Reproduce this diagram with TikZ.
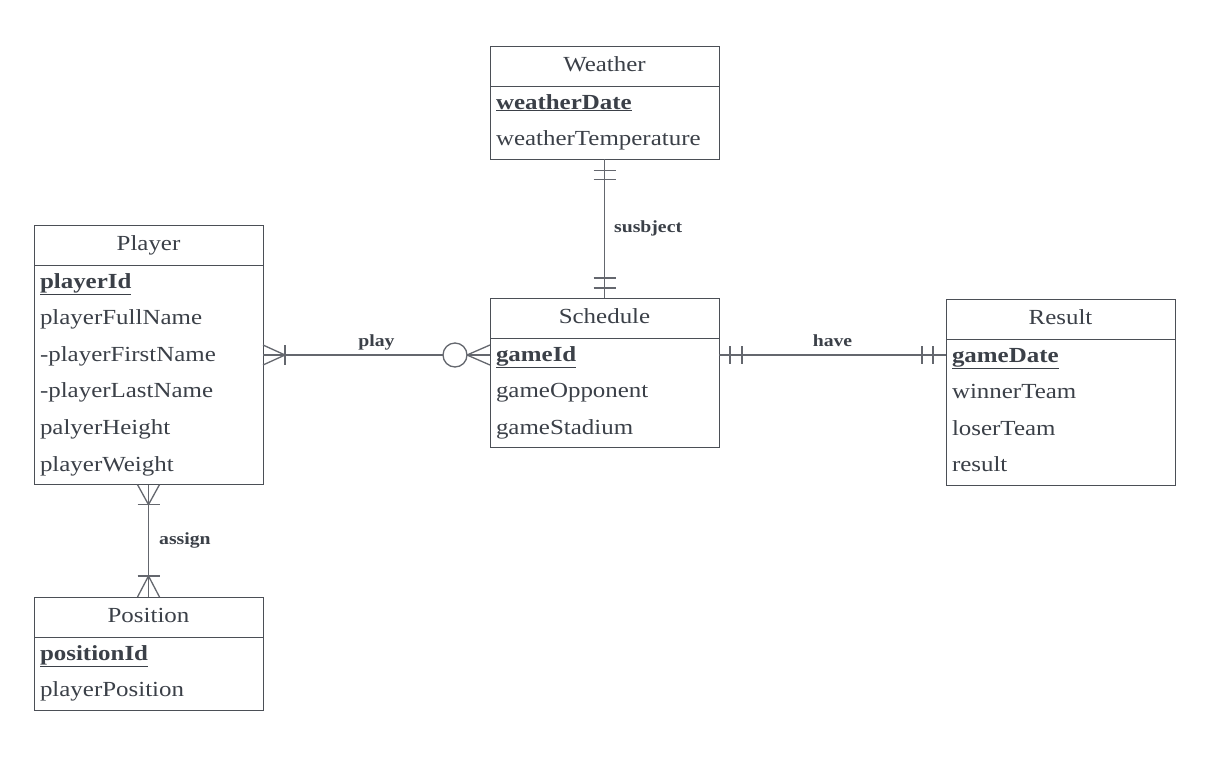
\documentclass[tikz,border=0pt]{standalone}
\usepackage{fontspec}
\setmainfont{Liberation Serif}[FakeStretch=1.16]
\usetikzlibrary{calc,positioning}

\definecolor{inkgray}{HTML}{3B4048}
\definecolor{boxgray}{HTML}{4B4F56}
\definecolor{linegray}{HTML}{64676E}

\newcommand{\rowstrut}{\rule[-13.6pt]{0pt}{36.6pt}}

\tikzset{
  head/.style={draw=boxgray,line width=1pt,outer sep=0pt,inner sep=0pt,minimum width=229pt,minimum height=40pt,
    text height=15pt,text depth=5pt,text=inkgray,font=\fontsize{21.5}{26}\selectfont},
  attrs/.style={draw=boxgray,line width=1pt,outer sep=0pt,inner xsep=6pt,inner ysep=0pt,text width=217pt,
    align=left,text=inkgray,font=\fontsize{21.5}{36.6}\selectfont},
  link/.style={draw=linegray,line width=1.3pt},
  rel/.style={inner sep=2pt,text height=12pt,text depth=4pt,text=inkgray,font=\bfseries\fontsize{17}{20}\selectfont}
}

\begin{document}
\begin{tikzpicture}[x=1pt,y=-1pt]
  \useasboundingbox[fill=white] (0,0) rectangle (1207,761);

  \node[head,anchor=north west] (weather) at (490,46) {Weather};
  \node[attrs,below=0pt of weather] (weatherattrs) {\rowstrut\textbf{\underline{weatherDate}}\\\rowstrut weatherTemperature};

  \node[head,anchor=north west] (player) at (34,225) {Player};
  \node[attrs,below=0pt of player] (playerattrs) {\rowstrut\textbf{\underline{playerId}}\\\rowstrut playerFullName\\\rowstrut -playerFirstName\\\rowstrut -playerLastName\\\rowstrut palyerHeight\\\rowstrut playerWeight};

  \node[head,anchor=north west] (schedule) at (490,298) {Schedule};
  \node[attrs,below=0pt of schedule] (scheduleattrs) {\rowstrut\textbf{\underline{gameId}}\\\rowstrut gameOpponent\\\rowstrut gameStadium};

  \node[head,anchor=north west] (result) at (946,299) {Result};
  \node[attrs,below=0pt of result] (resultattrs) {\rowstrut\textbf{\underline{gameDate}}\\\rowstrut winnerTeam\\\rowstrut loserTeam\\\rowstrut result};

  \node[head,anchor=north west] (position) at (34,597) {Position};
  \node[attrs,below=0pt of position] (positionattrs) {\rowstrut\textbf{\underline{positionId}}\\\rowstrut playerPosition};

  \coordinate (playS) at ($ (scheduleattrs.north west) + (0,17) $);
  \coordinate (playP) at (playS -| playerattrs.east);
  \draw[link] (playP) -- (playS) node[rel,midway,above=2pt] {play};
  \draw[link] ($ (playP) + (0,-10) $) -- ($ (playP) + (22,0) $) -- ($ (playP) + (0,10) $);
  \draw[link] ($ (playP) + (22,-10) $) -- ($ (playP) + (22,10) $);
  \draw[link] ($ (playS) + (0,-10) $) -- ($ (playS) + (-23,0) $) -- ($ (playS) + (0,10) $);
  \draw[link,fill=white] ($ (playS) + (-35,0) $) circle [radius=12pt];

  \coordinate (haveS) at (playS -| scheduleattrs.east);
  \coordinate (haveR) at (haveS -| resultattrs.west);
  \draw[link] (haveS) -- (haveR) node[rel,midway,above=2pt] {have};
  \draw[link] ($ (haveS) + (11,-9) $) -- ($ (haveS) + (11,9) $);
  \draw[link] ($ (haveS) + (23,-9) $) -- ($ (haveS) + (23,9) $);
  \draw[link] ($ (haveR) + (-24,-9) $) -- ($ (haveR) + (-24,9) $);
  \draw[link] ($ (haveR) + (-13,-9) $) -- ($ (haveR) + (-13,9) $);

  \draw[link] (weatherattrs.south) -- (schedule.north) node[rel,midway,right=7pt] {susbject};
  \draw[link] ($ (weatherattrs.south) + (-11,11) $) -- ($ (weatherattrs.south) + (11,11) $);
  \draw[link] ($ (weatherattrs.south) + (-11,20) $) -- ($ (weatherattrs.south) + (11,20) $);
  \draw[link] ($ (schedule.north) + (-11,-20) $) -- ($ (schedule.north) + (11,-20) $);
  \draw[link] ($ (schedule.north) + (-11,-10) $) -- ($ (schedule.north) + (11,-10) $);

  \draw[link] (playerattrs.south) -- (position.north) node[rel,midway,right=8pt] {assign};
  \draw[link] ($ (playerattrs.south) + (-11,0) $) -- ($ (playerattrs.south) + (0,20) $) -- ($ (playerattrs.south) + (11,0) $);
  \draw[link] ($ (playerattrs.south) + (-11,20) $) -- ($ (playerattrs.south) + (11,20) $);
  \draw[link] ($ (position.north) + (-11,0) $) -- ($ (position.north) + (0,-21) $) -- ($ (position.north) + (11,0) $);
  \draw[link] ($ (position.north) + (-11,-21) $) -- ($ (position.north) + (11,-21) $);
\end{tikzpicture}
\end{document}
